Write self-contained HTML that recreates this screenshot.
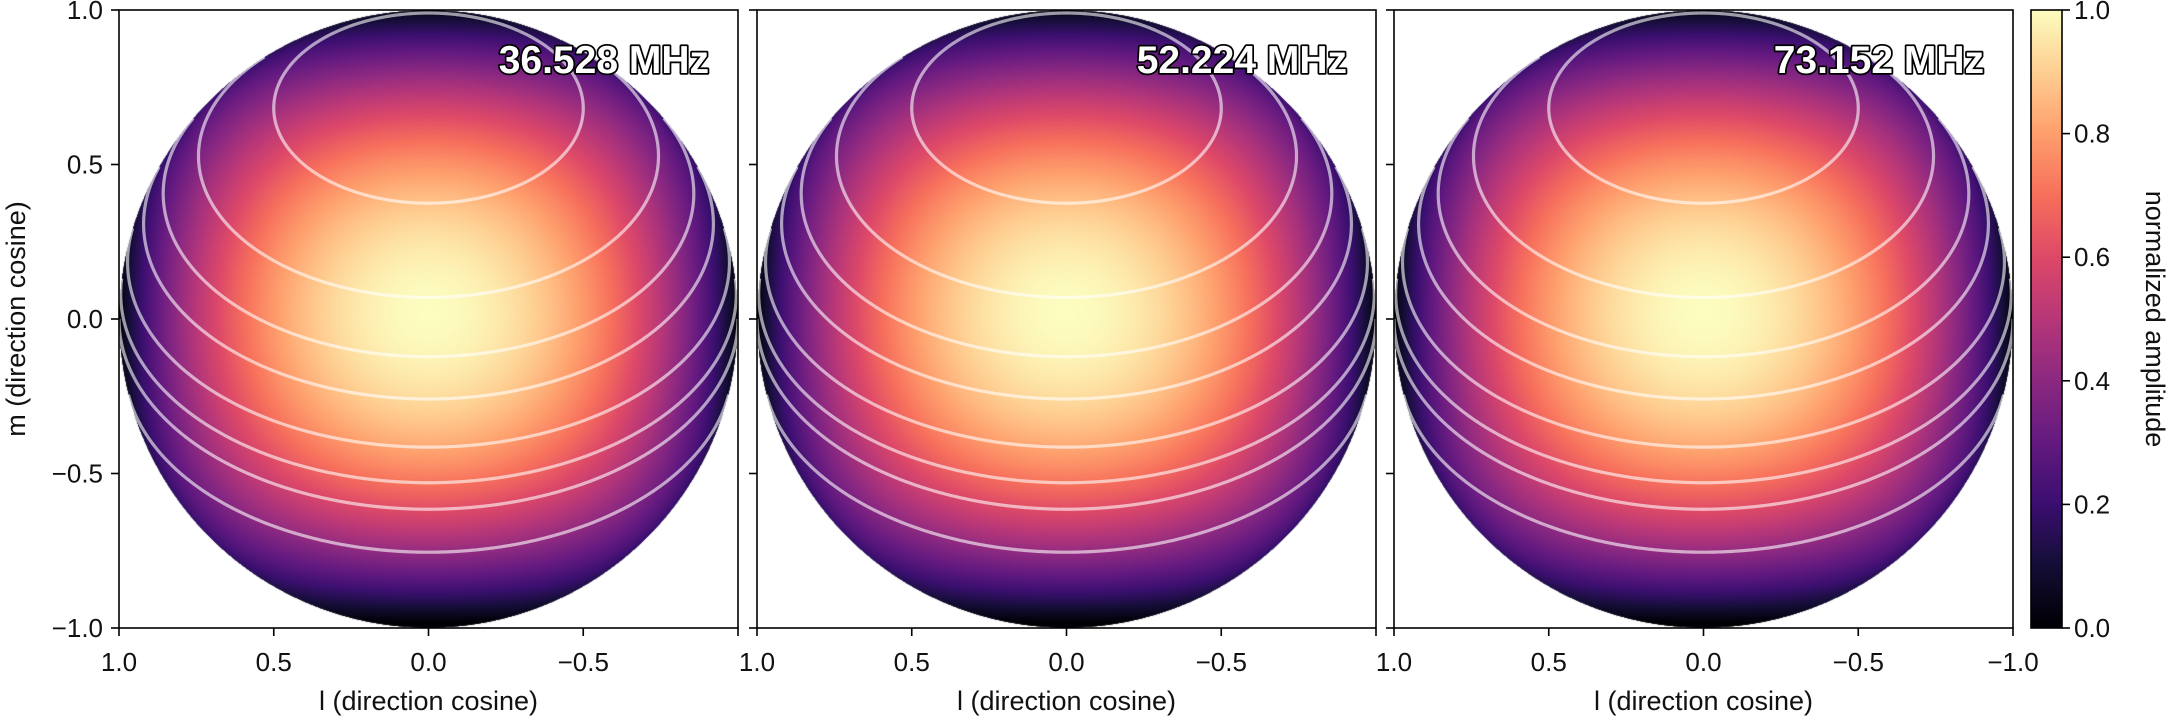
<!DOCTYPE html>
<html><head><meta charset="utf-8">
<style>
html,body{margin:0;padding:0;background:#fff;}
#root{position:relative;width:2170px;height:719px;overflow:hidden;font-family:"Liberation Sans",sans-serif;}
canvas{position:absolute;}
svg{position:absolute;left:0;top:0;}
</style></head>
<body>
<div id="root">
<canvas id="c0" width="619" height="618" style="left:119px;top:10px"></canvas>
<canvas id="c1" width="619" height="618" style="left:757px;top:10px"></canvas>
<canvas id="c2" width="619" height="618" style="left:1394px;top:10px"></canvas>
<canvas id="cb" width="31" height="618" style="left:2031px;top:10px"></canvas>
<svg id="svg" width="2170" height="719"></svg>
</div>
<script>
// ---- data ----
const freqLabels = ["36.528 MHz", "52.224 MHz", "73.152 MHz"];
const xTicks = [1.0, 0.5, 0.0, -0.5, -1.0];
const xTickLabels = ["1.0", "0.5", "0.0", "\u22120.5", "\u22121.0"];
const yTicks = [1.0, 0.5, 0.0, -0.5, -1.0];
const yTickLabels = ["1.0", "0.5", "0.0", "\u22120.5", "\u22121.0"];
const cbTicks = [0.0, 0.2, 0.4, 0.6, 0.8, 1.0];
const cbTickLabels = ["0.0", "0.2", "0.4", "0.6", "0.8", "1.0"];
const contourDecs = [60, 42, 31, 23, 13.5, 6, 0, -11];
const poleElevation = 38;
const beamExpL = [0.72, 0.72, 0.72];
const beamExpM = [0.85, 0.85, 0.85];
const beamShiftM = [-0.02, -0.02, -0.02];
const magma = [[0,0,4],[20,14,54],[59,15,112],[100,26,128],[140,41,129],[183,55,121],[222,73,104],[247,112,92],[254,159,109],[254,207,146],[252,253,191]];

const panelLeft = [119, 757, 1394];
const PW = 619, PH = 618, TOP = 10;
const NS = "http://www.w3.org/2000/svg";
const svg = document.getElementById('svg');

function cmap(v){
  v = Math.max(0, Math.min(1, v));
  const t = v * (magma.length - 1);
  const i = Math.min(magma.length - 2, Math.floor(t));
  const f = t - i;
  const a = magma[i], b = magma[i+1];
  return [a[0]+(b[0]-a[0])*f, a[1]+(b[1]-a[1])*f, a[2]+(b[2]-a[2])*f];
}
function mk(tag, attrs){ const e = document.createElementNS(NS, tag); for (const k in attrs) e.setAttribute(k, attrs[k]); svg.appendChild(e); return e; }
function xScale(p, l){ return panelLeft[p] + (1 - l) / 2 * PW; }
function yScale(m){ return TOP + (1 - m) / 2 * PH; }

// beam images
for (let p = 0; p < 3; p++) {
  const ctx = document.getElementById('c' + p).getContext('2d');
  const img = ctx.createImageData(PW, PH);
  for (let j = 0; j < PH; j++) {
    const m = 1 - 2 * (j + 0.5) / PH;
    for (let i = 0; i < PW; i++) {
      const l = 1 - 2 * (i + 0.5) / PW;
      const r2 = l*l + m*m;
      const k = (j * PW + i) * 4;
      if (r2 >= 1) { img.data[k+3] = 0; continue; }
      const n = Math.sqrt(1 - r2);
      const mm = m + beamShiftM[p];
      let A = Math.pow(Math.max(0, 1 - l*l), beamExpL[p]) * Math.pow(Math.max(0, 1 - mm*mm), beamExpM[p]) * Math.pow(n, 0.22);
      const c = cmap(A);
      img.data[k] = c[0]; img.data[k+1] = c[1]; img.data[k+2] = c[2];
      const edge = Math.min(1, (1 - Math.sqrt(r2)) * PW / 2 + 0.5);
      img.data[k+3] = 255 * edge;
    }
  }
  ctx.putImageData(img, 0, 0);
}
// colorbar
{
  const ctx = document.getElementById('cb').getContext('2d');
  for (let j = 0; j < 618; j++) {
    const c = cmap(1 - j / 617);
    ctx.fillStyle = `rgb(${c[0]|0},${c[1]|0},${c[2]|0})`;
    ctx.fillRect(0, j, 31, 1);
  }
}

// contours
const e = poleElevation * Math.PI / 180;
const P = [0, Math.cos(e), Math.sin(e)], U = [1, 0, 0], V = [0, -Math.sin(e), Math.cos(e)];
for (let p = 0; p < 3; p++) {
  contourDecs.forEach((dec, ci) => {
    const rho = (90 - dec) * Math.PI / 180;
    let d = "", pen = false;
    for (let s = 0; s <= 720; s++) {
      const th = s / 720 * 2 * Math.PI;
      const X = [0,1,2].map(q => Math.cos(rho)*P[q] + Math.sin(rho)*(Math.cos(th)*U[q] + Math.sin(th)*V[q]));
      if (X[2] < 0.0) { pen = false; continue; }
      const x = xScale(p, X[0]), y = yScale(X[1]);
      d += (pen ? "L" : "M") + x.toFixed(2) + " " + y.toFixed(2);
      pen = true;
    }
    const path = mk('path', {d: d, fill: 'none', stroke: 'rgba(255,255,255,0.6)', 'stroke-width': 3.2});
    
    
  });
}

// axes frames, ticks, labels
for (let p = 0; p < 3; p++) {
  const fr = mk('rect', {x: panelLeft[p], y: TOP, width: PW, height: PH, fill: 'none', stroke: '#000', 'stroke-width': 1.6});
  
  
  xTicks.forEach((v, i) => {
    const x = xScale(p, v);
    mk('line', {x1: x, x2: x, y1: TOP + PH, y2: TOP + PH + 8, stroke: '#000', 'stroke-width': 1.6});
    if (i < 4 || p === 2) {
      const t = mk('text', {x: x, y: 671, 'text-anchor': 'middle', 'font-size': 26, fill: '#111'});
      t.textContent = xTickLabels[i];
      
      
    }
  });
  yTicks.forEach((v, i) => {
    const y = yScale(v);
    mk('line', {x1: panelLeft[p] - 8, x2: panelLeft[p], y1: y, y2: y, stroke: '#000', 'stroke-width': 1.6});
    if (p === 0) {
      const t = mk('text', {x: 103, y: y + 9, 'text-anchor': 'end', 'font-size': 26, fill: '#111'});
      t.textContent = yTickLabels[i];
      
      
    }
  });
  const xl = mk('text', {x: panelLeft[p] + PW / 2, y: 710, 'text-anchor': 'middle', 'font-size': 27, fill: '#111'});
  xl.textContent = 'l (direction cosine)';
  
  
  const fl = mk('text', {x: panelLeft[p] + PW - 29, y: 73, 'text-anchor': 'end', 'font-size': 39, 'font-weight': 'bold', fill: '#fff', stroke: '#000', 'stroke-width': 3.5, 'paint-order': 'stroke', 'stroke-linejoin': 'round'});
  fl.textContent = freqLabels[p];
  
  
}
const yl = mk('text', {x: 0, y: 0, 'text-anchor': 'middle', 'font-size': 27, fill: '#111', transform: 'translate(25,319) rotate(-90)'});
yl.textContent = 'm (direction cosine)';



// colorbar axes
const cbf = mk('rect', {x: 2031, y: TOP, width: 31, height: PH, fill: 'none', stroke: '#000', 'stroke-width': 1.6});


cbTicks.forEach((v, i) => {
  const y = TOP + (1 - v) * PH;
  mk('line', {x1: 2062, x2: 2070, y1: y, y2: y, stroke: '#000', 'stroke-width': 1.6});
  const t = mk('text', {x: 2074, y: y + 9, 'font-size': 26, fill: '#111'});
  t.textContent = cbTickLabels[i];
  
  
});
const cbl = mk('text', {x: 0, y: 0, 'text-anchor': 'middle', 'font-size': 27, fill: '#111', transform: 'translate(2146,319) rotate(90)'});
cbl.textContent = 'normalized amplitude';


</script>
</body></html>
